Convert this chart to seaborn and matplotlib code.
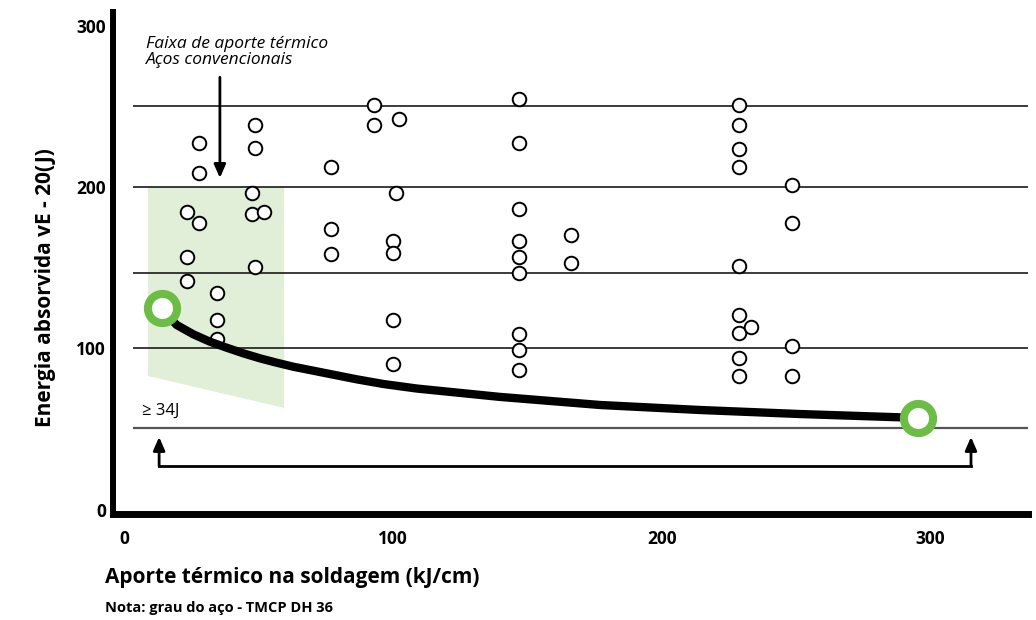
import pandas as pd
import matplotlib.pyplot as plt
import seaborn as sns

# measured Charpy points: heat input (kJ/cm) vs absorbed energy (J)
heat_input = [23.5, 23.5, 23.5,
              27.9, 27.9, 27.9,
              34.6, 34.6, 34.6,
              48.8, 48.8, 47.6, 47.6, 52.1, 48.8,
              77.0, 77.0, 77.0,
              93.0, 93.0, 102.3, 101.2, 100.1, 100.1, 100.1, 100.1,
              146.9, 146.9, 146.9, 146.9, 146.9, 146.9, 146.9, 146.9, 146.9,
              166.3, 166.3,
              228.7, 228.7, 228.7, 228.7, 228.7, 228.7, 228.7, 233.2, 228.7, 228.7,
              248.4, 248.4, 248.4, 248.4]
energy = [184.5, 156.7, 141.8,
          227.2, 208.7, 177.7,
          134.4, 117.6, 105.9,
          238.4, 224.1, 196.3, 183.3, 184.5, 150.5,
          212.4, 174.0, 158.5,
          250.8, 238.4, 242.1, 196.3, 166.6, 159.1, 117.6, 90.4,
          254.5, 227.2, 186.4, 166.6, 156.7, 146.7, 109.0, 99.1, 86.7,
          170.3, 152.9,
          250.8, 238.4, 223.5, 212.4, 151.1, 120.7, 109.6, 113.3, 94.1, 83.0,
          201.2, 177.7, 101.5, 83.0]

# toughness trend line
curve_x = [14.2, 16.4, 19.6, 25.8, 32.0, 38.2, 44.4, 50.6, 56.8, 63.0, 75.4,
           86.6, 96.5, 108.9, 139.9, 177.1, 214.3, 251.5, 295.3]
curve_y = [125.1, 120.1, 114.6, 108.8, 104.2, 100.5, 97.0, 93.9, 91.2, 88.7, 84.6,
           80.9, 78.0, 75.2, 70.0, 65.0, 61.9, 59.4, 57.0]

# conventional steels heat input band
band_x = [8.9, 59.6, 59.6, 8.9]
band_y = [200, 200, 63.2, 83.0]

grid_levels = [250, 200, 147, 100]
limit_level = 51
y_ticks = [0, 51, 100, 147, 200, 250, 300]
y_labels = ["0", "", "100", "", "200", "", "300"]
x_ticks = [0, 100, 200, 300]
x_labels = ["0", "100", "200", "300"]

df = pd.DataFrame({"aporte": heat_input, "energia": energy})
curve = pd.DataFrame({"aporte": curve_x, "energia": curve_y})

sns.set_style("white")
plt.rcParams["font.family"] = ["Open Sans", "DejaVu Sans"]
plt.rcParams["text.color"] = "black"
plt.rcParams["xtick.color"] = "black"
plt.rcParams["ytick.color"] = "black"

green = "#6cbd45"
fig = plt.figure(figsize=(10.36, 6.2), dpi=100)
ax = fig.add_axes([113 / 1036, 106.5 / 620, 915 / 1036, 501.5 / 620])

ax.fill(band_x, band_y, color="#e1eed8", lw=0, zorder=0)
ax.hlines(grid_levels, 3.5, 337, color="#1a1a1a", lw=1.2, zorder=1)
ax.hlines(limit_level, 3.5, 337, color="#555555", lw=1.6, zorder=1)

sns.scatterplot(data=df, x="aporte", y="energia", ax=ax, s=95, marker="o",
                facecolor="white", edgecolor="black", linewidth=1.4, zorder=3)
sns.lineplot(data=curve, x="aporte", y="energia", ax=ax, color="black",
             lw=6, zorder=4, solid_capstyle="butt", solid_joinstyle="round")
ax.plot([curve_x[0], curve_x[-1]], [curve_y[0], curve_y[-1]], "o", ms=21,
        mfc="white", mec=green, mew=5.8, zorder=5)

# bracket with arrows
arrow = dict(arrowstyle="-|>,head_length=0.8,head_width=0.35", color="black", lw=2,
             shrinkA=0, shrinkB=0)
ax.plot([13.1, 315], [27.2, 27.2], color="black", lw=2, solid_capstyle="projecting")
ax.annotate("", xy=(13.1, 45.2), xytext=(13.1, 27.2), arrowprops=arrow)
ax.annotate("", xy=(315, 45.2), xytext=(315, 27.2), arrowprops=arrow)
ax.text(6.6, 61.3, "≥ 34J", fontsize=12, va="center", ha="left")

ax.annotate("", xy=(35.7, 205.6), xytext=(35.7, 268), arrowprops=arrow)
ax.text(8.2, 283.5, "Faixa de aporte térmico\nAços convencionais", fontsize=12.5,
        style="italic", va="center", ha="left", linespacing=1.0)

ax.set_xlim(-4.05, 336.2)
ax.set_ylim(-2.2, 308.4)
ax.set_xticks(x_ticks, x_labels, fontsize=12.5, fontweight="bold")
ax.set_yticks(y_ticks, y_labels, fontsize=12.5, fontweight="bold")
ax.tick_params(axis="x", direction="out", length=10, width=3, pad=2, color="black")
ax.tick_params(axis="y", direction="in", length=11, width=3, pad=5, color="black")
ax.xaxis.get_major_ticks()[0].tick1line.set_visible(False)
ax.yaxis.get_major_ticks()[0].tick1line.set_visible(False)
ax.yaxis.get_major_ticks()[-1].tick1line.set_visible(False)
ax.set_xlabel("")
ax.set_ylabel("")

for side in ["top", "right"]:
    ax.spines[side].set_visible(False)
ax.spines["left"].set_linewidth(4.3)
ax.spines["bottom"].set_linewidth(5)
ax.spines["left"].set_color("black")
ax.spines["bottom"].set_color("black")

fig.text(46 / 1036, 1 - 288 / 620, "Energia absorvida vE - 20(J)", rotation=90,
         fontsize=15, fontweight="bold", ha="center", va="center")
fig.text(105 / 1036, 1 - 578 / 620, "Aporte térmico na soldagem (kJ/cm)",
         fontsize=15, fontweight="bold", ha="left", va="center")
fig.text(105 / 1036, 1 - 608 / 620, "Nota: grau do aço - TMCP DH 36",
         fontsize=10.5, fontweight="bold", ha="left", va="center")

fig.savefig("out.png", dpi=100)
